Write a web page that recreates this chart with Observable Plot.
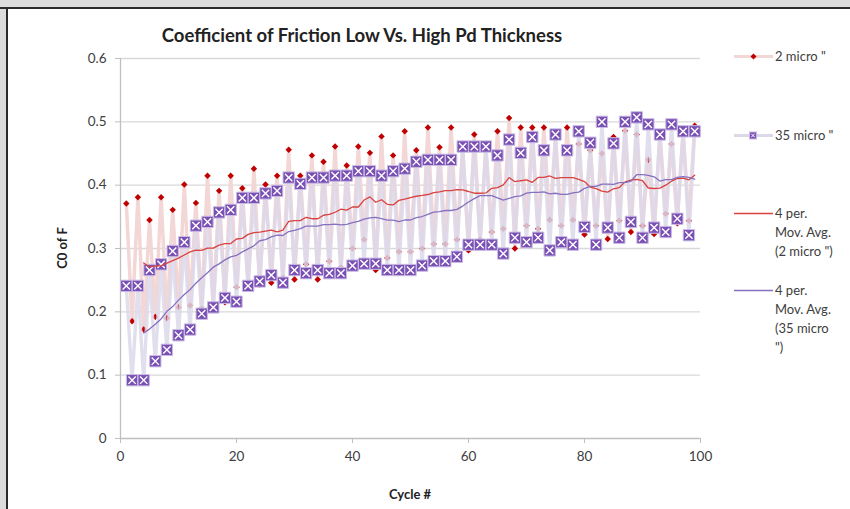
<!DOCTYPE html>
<html><head><meta charset="utf-8">
<script src="https://cdn.jsdelivr.net/npm/d3@7"></script>
<script src="https://cdn.jsdelivr.net/npm/@observablehq/plot@0.6"></script>
<style>
html,body{margin:0;padding:0;background:#fff;}
#wrap{position:relative;width:850px;height:509px;overflow:hidden;font-family:Lato,"Open Sans",sans-serif;color:#404040;}
#chart{position:absolute;left:0;top:0;}
#gl{position:absolute;left:0;top:0;width:6px;height:509px;background:#dcdcdc;border-right:2px solid #2a2a2a;}
#gt{position:absolute;left:0;top:0;width:850px;height:7px;background:#dcdcdc;border-bottom:2px solid #2a2a2a;}
.abs{position:absolute;white-space:nowrap;}
#title{left:362px;top:35px;transform:translate(-50%,-50%);font-weight:bold;font-size:18.5px;color:#222;}
#ylab{left:62px;top:248px;transform:translate(-50%,-50%) rotate(-90deg);font-weight:bold;font-size:13px;color:#222;}
#xlab{left:410px;top:494px;transform:translate(-50%,-50%);font-weight:bold;font-size:13px;color:#222;}
.leg{position:absolute;left:733px;}
.leg svg{position:absolute;left:0;}
.leg .t{position:absolute;left:42px;font-size:13px;line-height:19px;color:#404040;white-space:nowrap;}
</style>
</head><body>
<div id="wrap">
  <div id="chart"></div>
  <div id="gl"></div><div id="gt"></div>
  <div id="title" class="abs">Coefficient of Friction Low Vs. High Pd Thickness</div>
  <div id="ylab" class="abs">C0 of F</div>
  <div id="xlab" class="abs">Cycle #</div>
  <div id="legend"></div>
</div>
<script>
// Cycle numbers
const cycles = [1,2,3,4,5,6,7,8,9,10,11,12,13,14,15,16,17,18,19,20,
21,22,23,24,25,26,27,28,29,30,31,32,33,34,35,36,37,38,39,40,
41,42,43,44,45,46,47,48,49,50,51,52,53,54,55,56,57,58,59,60,
61,62,63,64,65,66,67,68,69,70,71,72,73,74,75,76,77,78,79,80,
81,82,83,84,85,86,87,88,89,90,91,92,93,94,95,96,97,98,99];

// 2 micro " series
const micro2 = [0.371,0.185,0.381,0.172,0.345,0.192,0.381,0.190,0.361,0.207,
0.401,0.210,0.372,0.205,0.415,0.210,0.391,0.215,0.415,0.239,
0.395,0.240,0.426,0.243,0.401,0.246,0.415,0.254,0.456,0.251,
0.415,0.275,0.447,0.251,0.437,0.280,0.461,0.270,0.431,0.300,
0.461,0.314,0.451,0.266,0.477,0.285,0.447,0.295,0.485,0.295,
0.455,0.300,0.491,0.307,0.460,0.307,0.491,0.314,0.458,0.297,
0.480,0.314,0.460,0.326,0.485,0.331,0.506,0.300,0.491,0.336,
0.491,0.331,0.491,0.345,0.476,0.336,0.491,0.345,0.465,0.322,
0.455,0.336,0.450,0.315,0.476,0.344,0.486,0.326,0.480,0.336,
0.440,0.323,0.482,0.355,0.465,0.340,0.485,0.344,0.494];

// 35 micro " series
const micro35 = [0.241,0.092,0.241,0.092,0.266,0.122,0.275,0.140,0.296,0.163,
0.310,0.172,0.336,0.197,0.342,0.207,0.357,0.222,0.361,0.216,
0.380,0.241,0.380,0.248,0.387,0.258,0.391,0.246,0.412,0.266,
0.402,0.261,0.412,0.266,0.412,0.261,0.415,0.261,0.415,0.273,
0.422,0.276,0.422,0.276,0.415,0.266,0.422,0.266,0.426,0.266,
0.437,0.273,0.440,0.280,0.440,0.280,0.440,0.287,0.461,0.306,
0.461,0.306,0.461,0.306,0.447,0.292,0.472,0.317,0.451,0.310,
0.476,0.317,0.455,0.297,0.480,0.310,0.455,0.306,0.485,0.334,
0.467,0.306,0.500,0.333,0.466,0.317,0.500,0.342,0.507,0.317,
0.496,0.333,0.480,0.326,0.496,0.347,0.485,0.321,0.485];

const xTicks = [0,20,40,60,80,100];
const yTicks = [0,0.1,0.2,0.3,0.4,0.5,0.6];
const yTickLabels = ["0","0.1","0.2","0.3","0.4","0.5","0.6"];

const seriesNames = ["2 micro \"", "35 micro \""];
const maWindow = 4;

const rows2 = cycles.map((c,i)=>({cycle:c, cof:micro2[i]}));
const rows35 = cycles.map((c,i)=>({cycle:c, cof:micro35[i]}));

const C = {
  pinkLine:"#f3d6d6", red:"#c00000", lavLine:"#dcd8ea",
  sqFill:"#7a50b4", sqStroke:"#c9bce4", maRed:"#d9423e", maPurple:"#8670bf",
  grid:"#d9d9d9", axis:"#bfbfbf", text:"#404040"
};

const plot = Plot.plot({
  width:850, height:509,
  marginLeft:120, marginRight:150, marginTop:58, marginBottom:71,
  style:{fontFamily:"Lato, 'Open Sans', sans-serif", fontSize:"13.5px", background:"transparent", color:C.text},
  x:{domain:[0,100]},
  y:{domain:[0,0.6]},
  marks:[
    Plot.ruleY(yTicks.slice(1), {stroke:C.grid, strokeWidth:1.3}),
    Plot.ruleY([0], {stroke:C.axis, strokeWidth:1.3}),
    Plot.ruleX([0], {stroke:C.axis, strokeWidth:1.3}),
    Plot.axisX(xTicks, {tickSize:5, tickPadding:8, stroke:C.axis, fill:C.text, label:null, tickFormat:d=>String(d)}),
    Plot.axisY(yTicks, {tickSize:5, tickPadding:9, stroke:C.axis, fill:C.text, label:null, tickFormat:(d,i)=>yTickLabels[i]}),
    Plot.line(rows2, {x:"cycle", y:"cof", stroke:C.pinkLine, strokeWidth:3.5, strokeLinejoin:"round"}),
    Plot.dot(rows2, {x:"cycle", y:"cof", symbol:"diamond2", r:2.9, fill:C.red}),
    Plot.line(rows35, {x:"cycle", y:"cof", stroke:C.lavLine, strokeWidth:3.4, strokeLinejoin:"round", strokeOpacity:0.85}),
    Plot.dot(rows35, {x:"cycle", y:"cof", symbol:"square", r:6.4, fill:C.sqFill, stroke:C.sqStroke, strokeWidth:1}),
    Plot.dot(rows35, {x:"cycle", y:"cof", symbol:"times", r:3.4, stroke:"#ffffff", strokeWidth:1.4}),
    Plot.lineY(rows2, Plot.windowY({k:maWindow, anchor:"end", strict:true}, {x:"cycle", y:"cof", stroke:C.maRed, strokeWidth:1.3})),
    Plot.lineY(rows35, Plot.windowY({k:maWindow, anchor:"end", strict:true}, {x:"cycle", y:"cof", stroke:C.maPurple, strokeWidth:1.3}))
  ]
});
document.getElementById("chart").appendChild(plot);

// Legend
const legendEntries = [
  {y:56, lines:[seriesNames[0]], kind:"s2"},
  {y:135, lines:[seriesNames[1]], kind:"s35"},
  {y:213, lines:["4 per.","Mov. Avg.","(2 micro \")"], kind:"ma2"},
  {y:290, lines:["4 per.","Mov. Avg.","(35 micro","\")"], kind:"ma35"}
];
const leg = d3.select("#legend");
legendEntries.forEach(e=>{
  const g = leg.append("div").attr("class","leg").style("top",(e.y-9.5)+"px");
  const svg = g.append("svg").attr("width",42).attr("height",19).style("top","0px");
  if (e.kind==="s2"){
    svg.append("line").attr("x1",1).attr("x2",40).attr("y1",9.5).attr("y2",9.5).attr("stroke",C.pinkLine).attr("stroke-width",3);
    svg.append("path").attr("d","M20.5,6.5 L23.5,9.5 L20.5,12.5 L17.5,9.5Z").attr("fill",C.red);
  } else if (e.kind==="s35"){
    svg.append("line").attr("x1",1).attr("x2",40).attr("y1",9.5).attr("y2",9.5).attr("stroke",C.lavLine).attr("stroke-width",3);
    svg.append("rect").attr("x",16.5).attr("y",6).attr("width",7).attr("height",7).attr("fill",C.sqFill).attr("stroke",C.sqStroke);
    svg.append("path").attr("d","M18.3,7.8 L21.7,11.2 M21.7,7.8 L18.3,11.2").attr("stroke","#fff").attr("stroke-width",1);
  } else {
    svg.append("line").attr("x1",1).attr("x2",40).attr("y1",9.5).attr("y2",9.5).attr("stroke",e.kind==="ma2"?C.maRed:C.maPurple).attr("stroke-width",1.5);
  }
  const t = g.append("div").attr("class","t").style("top","0px");
  t.html(e.lines.map(s=>s.replace(/&/g,"&amp;").replace(/</g,"&lt;")).join("<br>"));
});
</script>
</body></html>
